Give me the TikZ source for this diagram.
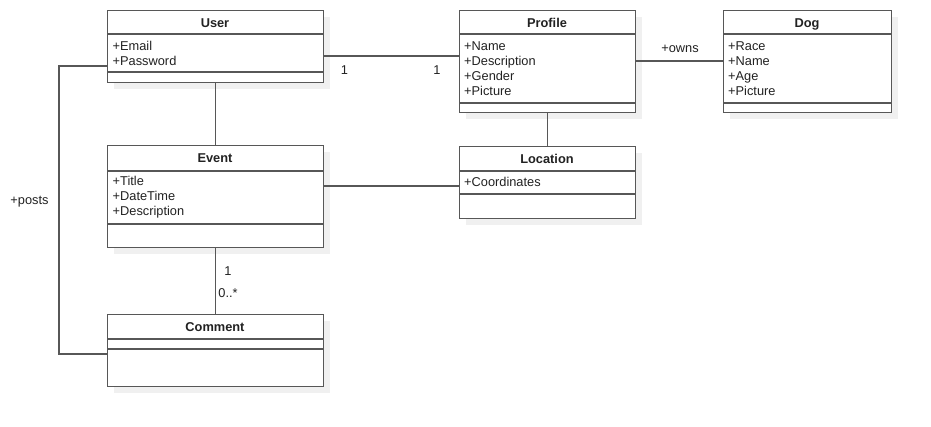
\documentclass[tikz,border=0pt]{standalone}
\usepackage{fontspec}
\setmainfont{Liberation Sans}
\usetikzlibrary{calc}
\definecolor{linegray}{HTML}{575757}
\definecolor{shadowgray}{HTML}{F0F0F0}
\definecolor{txt}{HTML}{222222}
\begin{document}
\begin{tikzpicture}[x=1pt,y=-1pt,
  cls/.style={draw=linegray, line width=1.3pt, fill=white, inner sep=0pt, anchor=north west},
  sep/.style={draw=linegray, line width=1.3pt},
  conn/.style={draw=linegray, line width=1.3pt},
  shadow/.style={fill=shadowgray},
  title/.style={font=\fontsize{12.8}{15}\selectfont\bfseries, text=txt, inner sep=0pt, anchor=base},
  attr/.style={font=\fontsize{12.8}{15}\selectfont, text=txt, inner sep=0pt, anchor=base west, align=left},
  lbl/.style={font=\fontsize{12.8}{15}\selectfont, text=txt, inner sep=0pt, anchor=base}]
\useasboundingbox (0,0) rectangle (931,426);
\fill[white] (0,0) rectangle (931,426);

% ---- User
\fill[shadow] (114,17) rectangle (330,89);
\node[cls, minimum width=216pt, minimum height=72pt] (user) at (107,10) {};
\draw[sep] ($(user.north west)+(0,24)$) -- ($(user.north east)+(0,24)$);
\draw[sep] ($(user.north west)+(0,62)$) -- ($(user.north east)+(0,62)$);
\node[title] (usert) at (215,27) {User};
\node[attr] (usera1) at (112.5,50) {+Email};
\node[attr] (usera2) at (112.5,65) {+Password};

% ---- Profile
\fill[shadow] (466,17) rectangle (642,119);
\node[cls, minimum width=176pt, minimum height=102pt] (profile) at (459,10) {};
\draw[sep] ($(profile.north west)+(0,24)$) -- ($(profile.north east)+(0,24)$);
\draw[sep] ($(profile.north west)+(0,93)$) -- ($(profile.north east)+(0,93)$);
\node[title] (profilet) at (547,27) {Profile};
\node[attr] (profilea1) at (464,50) {+Name};
\node[attr] (profilea2) at (464,65) {+Description};
\node[attr] (profilea3) at (464,80) {+Gender};
\node[attr] (profilea4) at (464,95) {+Picture};

% ---- Dog
\fill[shadow] (730,17) rectangle (898,119);
\node[cls, minimum width=168pt, minimum height=102pt] (dog) at (723,10) {};
\draw[sep] ($(dog.north west)+(0,24)$) -- ($(dog.north east)+(0,24)$);
\draw[sep] ($(dog.north west)+(0,93)$) -- ($(dog.north east)+(0,93)$);
\node[title] (dogt) at (807,27) {Dog};
\node[attr] (doga1) at (728,50) {+Race};
\node[attr] (doga2) at (728,65) {+Name};
\node[attr] (doga3) at (728,80) {+Age};
\node[attr] (doga4) at (728,95) {+Picture};

% ---- Event
\fill[shadow] (114,152) rectangle (330,254);
\node[cls, minimum width=216pt, minimum height=102pt] (event) at (107,145) {};
\draw[sep] ($(event.north west)+(0,26)$) -- ($(event.north east)+(0,26)$);
\draw[sep] ($(event.north west)+(0,79)$) -- ($(event.north east)+(0,79)$);
\node[title] (eventt) at (215,162.5) {Event};
\node[attr] (eventa1) at (112.5,185.5) {+Title};
\node[attr] (eventa2) at (112.5,200.5) {+DateTime};
\node[attr] (eventa3) at (112.5,215.5) {+Description};

% ---- Location
\fill[shadow] (466,153) rectangle (642,225);
\node[cls, minimum width=176pt, minimum height=72pt] (location) at (459,146) {};
\draw[sep] ($(location.north west)+(0,25)$) -- ($(location.north east)+(0,25)$);
\draw[sep] ($(location.north west)+(0,48)$) -- ($(location.north east)+(0,48)$);
\node[title] (locationt) at (547,163.5) {Location};
\node[attr] (locationa1) at (464,186.5) {+Coordinates};

% ---- Comment
\fill[shadow] (114,321) rectangle (330,393);
\node[cls, minimum width=216pt, minimum height=72pt] (comment) at (107,314) {};
\draw[sep] ($(comment.north west)+(0,25)$) -- ($(comment.north east)+(0,25)$);
\draw[sep] ($(comment.north west)+(0,35)$) -- ($(comment.north east)+(0,35)$);
\node[title] (commentt) at (215,331) {Comment};

% ---- Connectors
\draw[conn] (user.east |- 0,56) -- (profile.west |- 0,56);
\node[lbl] (l1a) at (344.5,74.5) {1};
\node[lbl] (l1b) at (437,74.5) {1};

\draw[conn] (profile.east |- 0,61) -- (dog.west |- 0,61);
\node[lbl] (lowns) at (680,52) {+owns};

\draw[conn] (user.south) -- (event.north);
\draw[conn] (profile.south) -- (location.north);

\draw[conn] (event.east |- 0,186) -- (location.west |- 0,186);

\draw[conn] (event.south) -- (comment.north);
\node[lbl] (l1c) at (228,275) {1};
\node[lbl] (lzero) at (228,297.5) {0..*};

\coordinate (pA) at (59,66);
\coordinate (pB) at (59,354);
\draw[conn] (user.west |- pA) -- (pA) -- (pB) -- (comment.west |- pB);
\node[lbl] (lposts) at (29.5,204.5) {+posts};
\end{tikzpicture}
\end{document}
